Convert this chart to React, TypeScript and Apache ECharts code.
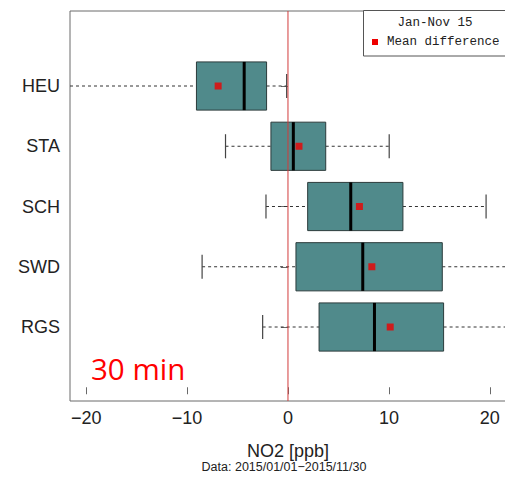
import React, { useEffect, useRef } from "react";
import * as echarts from "echarts";

const stations = ["HEU", "STA", "SCH", "SWD", "RGS"];
const whiskerLow = [-24, -6.19, -2.18, -8.51, -2.51];
const q1 = [-9.07, -1.69, 1.95, 0.79, 3.08];
const median = [-4.34, 0.53, 6.22, 7.41, 8.57];
const q3 = [-2.12, 3.74, 11.39, 15.29, 15.42];
const whiskerHigh = [-0.13, 10.03, 19.63, 25, 25];
const meanDiff = [-6.92, 1.09, 7.08, 8.31, 10.13];
const xTicks = [-20, -10, 0, 10, 20];
const yTicks = [1, 2, 3, 4, 5];
const refLineX = 0;

const Y_MIN = -0.228;
const Y_MAX = 6.245;

const posOf = (i: number) => stations.length - i;

export default function App() {
  const ref = useRef<HTMLDivElement>(null);
  useEffect(() => {
    document.body.style.margin = "0";
    if (!ref.current) return;
    const chart = echarts.init(ref.current, null, { renderer: "svg" });
    const boxData = stations.map((_, i) => [posOf(i), whiskerLow[i], q1[i], median[i], q3[i], whiskerHigh[i]]);
    const meanData = stations.map((_, i) => [meanDiff[i], posOf(i)]);
    const fmtNum = (v: number) => (v < 0 ? "\u2212" + Math.abs(v) : String(v));
    chart.setOption({
      animation: false,
      backgroundColor: "#ffffff",
      grid: {
        left: 70,
        top: 11,
        width: 440,
        height: 390,
        outerBoundsMode: "none",
        show: true,
        borderColor: "#6a6a6a",
        borderWidth: 1,
        backgroundColor: "transparent",
      },
      xAxis: {
        type: "value",
        min: -21.6,
        max: 22,
        axisLine: { show: false },
        splitLine: { show: false },
        axisTick: { show: true, customValues: xTicks, length: 7, lineStyle: { color: "#6a6a6a" } },
        axisLabel: {
          customValues: xTicks,
          fontSize: 18,
          color: "#222",
          margin: 8,
          fontFamily: "Liberation Sans, Arial, sans-serif",
          formatter: (v: number) => fmtNum(v),
        },
      },
      yAxis: {
        type: "value",
        min: Y_MIN,
        max: Y_MAX,
        axisLine: { show: false },
        splitLine: { show: false },
        axisTick: { show: true, customValues: yTicks, length: 7, lineStyle: { color: "#6a6a6a" } },
        axisLabel: {
          customValues: yTicks,
          fontSize: 18,
          color: "#222",
          margin: 10,
          fontFamily: "Liberation Sans, Arial, sans-serif",
          formatter: (v: number) => stations[stations.length - v] ?? "",
        },
      },
      series: [
        {
          type: "custom",
          z: 2,
          data: boxData,
          encode: { x: [1, 2, 3, 4, 5], y: 0 },
          renderItem: (params: any, api: any) => {
            const y = api.value(0);
            const lo = api.value(1);
            const a = api.value(2);
            const med = api.value(3);
            const b = api.value(4);
            const hi = api.value(5);
            const cs = params.coordSys;
            const xmin = cs.x;
            const xmax = cs.x + cs.width;
            const clamp = (x: number) => Math.max(xmin, Math.min(xmax, x));
            const py = api.coord([0, y])[1];
            const h = api.size([0, 0.8])[1];
            const capH = api.size([0, 0.4])[1];
            const xLo = api.coord([lo, y])[0];
            const xA = api.coord([a, y])[0];
            const xM = api.coord([med, y])[0];
            const xB = api.coord([b, y])[0];
            const xHi = api.coord([hi, y])[0];
            const children: any[] = [];
            const dash = { stroke: "#333", lineWidth: 1, lineDash: [3, 3] };
            children.push({
              type: "line",
              shape: { x1: clamp(xLo), y1: py, x2: xA, y2: py },
              style: dash,
            });
            children.push({
              type: "line",
              shape: { x1: xB, y1: py, x2: clamp(xHi), y2: py },
              style: dash,
            });
            if (xLo >= xmin) {
              children.push({
                type: "line",
                shape: { x1: xLo, y1: py - capH / 2, x2: xLo, y2: py + capH / 2 },
                style: { stroke: "#444", lineWidth: 1.2 },
              });
            }
            if (xHi <= xmax) {
              children.push({
                type: "line",
                shape: { x1: xHi, y1: py - capH / 2, x2: xHi, y2: py + capH / 2 },
                style: { stroke: "#444", lineWidth: 1.2 },
              });
            }
            children.push({
              type: "rect",
              shape: { x: xA, y: py - h / 2, width: xB - xA, height: h },
              style: { fill: "#508a8b", stroke: "#2b3b3b", lineWidth: 1 },
            });
            children.push({
              type: "line",
              shape: { x1: xM, y1: py - h / 2, x2: xM, y2: py + h / 2 },
              style: { stroke: "#000", lineWidth: 3 },
            });
            return { type: "group", children };
          },
        },
        {
          type: "line",
          z: 3,
          data: [
            [refLineX, Y_MIN],
            [refLineX, Y_MAX],
          ],
          symbol: "none",
          silent: true,
          lineStyle: { color: "#d23c3c", width: 1 },
        },
        {
          type: "scatter",
          z: 4,
          data: meanData,
          symbol: "rect",
          symbolSize: 7,
          itemStyle: { color: "#ee0000" },
        },
      ],
      graphic: [
        {
          type: "rect",
          z: 10,
          shape: { x: 363.5, y: 10.5, width: 160, height: 45.5 },
          style: { fill: "#ffffff", stroke: "#555", lineWidth: 1 },
        },
        {
          type: "text",
          z: 11,
          x: 435,
          y: 23,
          style: {
            text: "Jan-Nov 15",
            fontFamily: "Liberation Mono, Courier New, monospace",
            fontSize: 12.5,
            fill: "#222",
            align: "center",
            verticalAlign: "middle",
          },
        },
        {
          type: "rect",
          z: 11,
          shape: { x: 372, y: 39, width: 6, height: 6 },
          style: { fill: "#ee0000" },
        },
        {
          type: "text",
          z: 11,
          x: 387,
          y: 42,
          style: {
            text: "Mean difference",
            fontFamily: "Liberation Mono, Courier New, monospace",
            fontSize: 12.5,
            fill: "#222",
            align: "left",
            verticalAlign: "middle",
          },
        },
        {
          type: "text",
          z: 11,
          x: 91,
          y: 368,
          style: {
            text: "30 min",
            fontFamily: "Open Sans, sans-serif",
            fontSize: 29.5,
            fill: "#ff0000",
            align: "left",
            verticalAlign: "middle",
          },
        },
        {
          type: "text",
          x: 288,
          y: 451,
          style: {
            text: "NO2 [ppb]",
            fontFamily: "Liberation Sans, Arial, sans-serif",
            fontSize: 18,
            fill: "#222",
            align: "center",
            verticalAlign: "middle",
          },
        },
        {
          type: "text",
          x: 284,
          y: 467,
          style: {
            text: "Data: 2015/01/01\u22122015/11/30",
            fontFamily: "Liberation Sans, Arial, sans-serif",
            fontSize: 12.5,
            fill: "#222",
            align: "center",
            verticalAlign: "middle",
          },
        },
      ],
    });
    return () => chart.dispose();
  }, []);
  return <div ref={ref} style={{ width: 505, height: 477 }} />;
}
